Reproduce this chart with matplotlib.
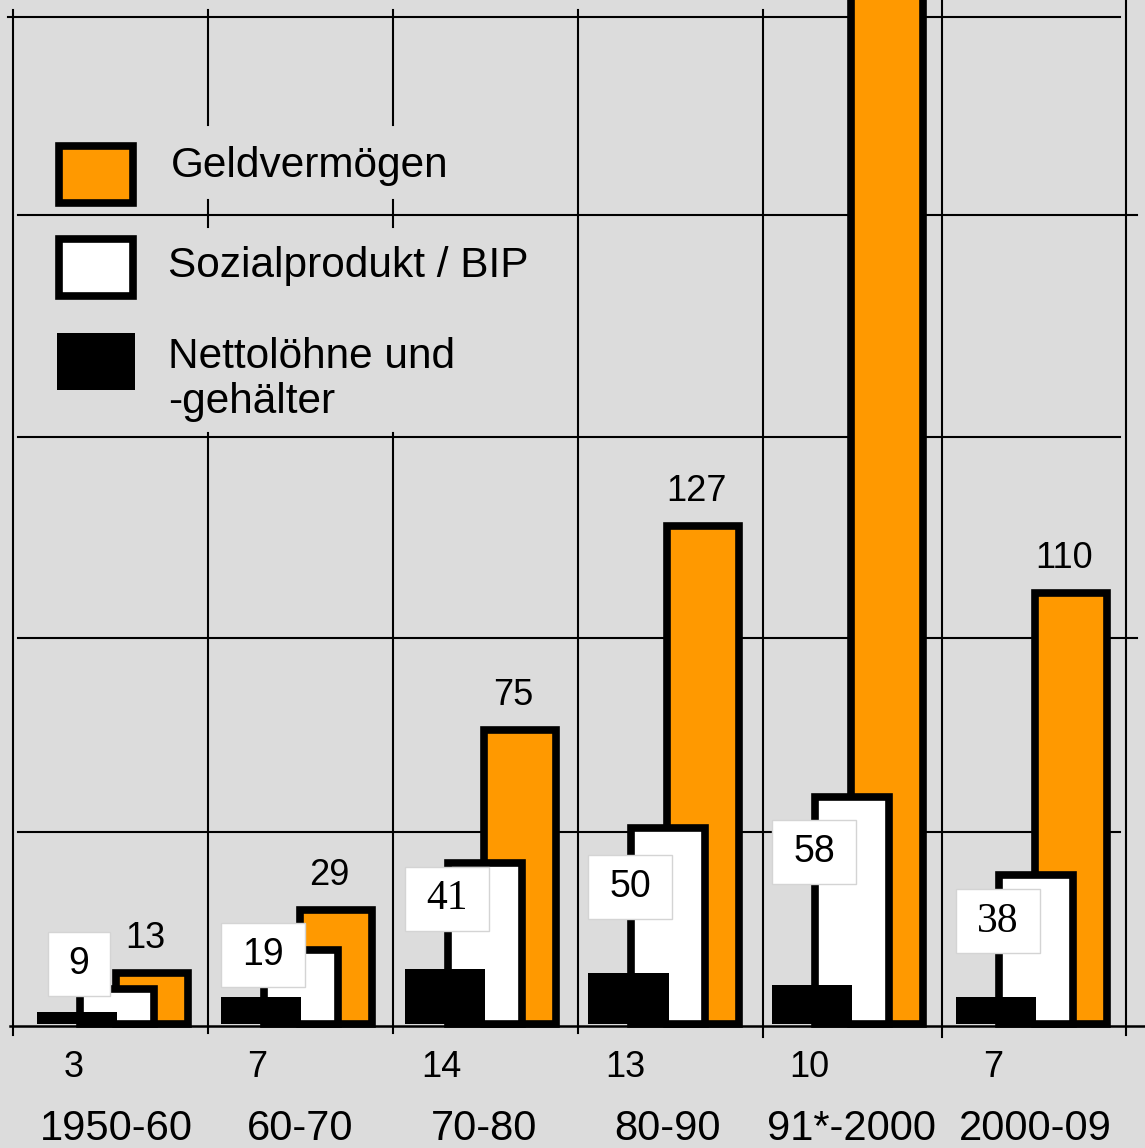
import numpy as np
import matplotlib.pyplot as plt
from matplotlib.patches import Rectangle

plt.rcParams['font.family'] = ['Liberation Sans', 'DejaVu Sans']

# data (growth per decade)
periods = ['1950-60', '60-70', '70-80', '80-90', '91*-2000', '2000-09']
nettoloehne = [3, 7, 14, 13, 10, 7]
bip = [9, 19, 41, 50, 58, 38]
geldvermoegen = [13, 29, 75, 127, 300, 110]  # 91*-2000 runs off the top of the picture
geld_shown = [True, True, True, True, False, True]

# layout of the picture (pixels)
W, H = 1145, 1148
BASE = 1024          # pixel row of the zero line
PPU = 3.92           # pixels per unit
LEFT = 37            # left edge of first group
STEP = 183.8         # pixels per group

# per-label tweaks for the boxed BIP values (box centre below bar top, in units)
bip_dy = [-6.3, 1.5, 9.1, 15, 14.2, 11.8]
bip_serif = [False, False, True, False, False, True]

bg = '#dcdcdc'
orange = '#ff9900'

fig = plt.figure(figsize=(W / 100, H / 100), dpi=100)

# background axes in pixel coordinates: grid lines and legend
deco = fig.add_axes([0, 0, 1, 1], zorder=0)
deco.set_xlim(0, W)
deco.set_ylim(H, 0)
deco.set_facecolor(bg)
deco.axis('off')
fig.patch.set_facecolor(bg)

hlines = [(17, 8, 1120), (215, 18, 1137), (437, 18, 1120), (638, 18, 1137), (832, 18, 1120)]
for y, x0, x1 in hlines:
    deco.plot([x0, x1], [y, y], color='black', lw=1.5)
deco.plot([10, 1145], [1026, 1026], color='black', lw=1.8)

vlines = [(13, 10, 1035), (208, 10, 125), (208, 200, 227), (208, 433, 1033),
          (393, 10, 125), (393, 200, 227), (393, 433, 1033), (578, 10, 1033),
          (763, 10, 1037), (942, 0, 1037), (1126, 0, 1035)]
for x, y0, y1 in vlines:
    deco.plot([x, x], [y0, y1], color='black', lw=1.5)

# legend
deco.add_patch(Rectangle((59, 146), 74, 57, facecolor=orange, edgecolor='black', lw=5.5))
deco.add_patch(Rectangle((59, 239), 74, 57, facecolor='white', edgecolor='black', lw=5.5))
deco.add_patch(Rectangle((57, 333), 78, 57, facecolor='black', edgecolor='none'))
deco.text(171, 177, 'Geldvermögen', fontsize=30.5, va='baseline', ha='left')
deco.text(168, 277, 'Sozialprodukt / BIP', fontsize=30.5, va='baseline', ha='left')
deco.text(168, 413, 'Nettolöhne und\n-gehälter', fontsize=30.5, va='baseline', ha='left',
          linespacing=1.15)

# main axes in data coordinates
ax = fig.add_axes([0, 0, 1, 1], zorder=1)
ax.patch.set_alpha(0)
ax.axis('off')
ax.set_xlim(-LEFT / STEP, (W - LEFT) / STEP)
ax.set_ylim(-(H - BASE) / PPU, BASE / PPU)

x = np.arange(len(periods))
ax.bar(x + 0.43, geldvermoegen, width=0.392, align='edge', color=orange,
       edgecolor='black', lw=5.5, zorder=2)
ax.bar(x + 0.234, bip, width=0.403, align='edge', color='white',
       edgecolor='black', lw=5.5, zorder=3)
ax.bar(x, nettoloehne, width=0.436, align='edge', color='black',
       edgecolor='none', zorder=4)

# value labels
for i in range(len(periods)):
    if geld_shown[i]:
        ax.text(x[i] + 0.59, geldvermoegen[i] + 6.4, str(geldvermoegen[i]),
                fontsize=26, ha='center', va='baseline', zorder=6)

    cx = x[i] + 0.228
    cy = bip[i] - bip_dy[i]
    s = str(bip[i])
    bw = (40 + 22 * len(s)) / STEP
    bh = 64 / PPU
    ax.add_patch(Rectangle((cx - bw / 2, cy - bh / 2), bw, bh, facecolor='white',
                           edgecolor='#d4d4d4', lw=1, zorder=5))
    if bip_serif[i]:
        ax.text(cx, cy, s, fontsize=30, family=['Liberation Serif'],
                ha='center', va='center', zorder=6)
    else:
        ax.text(cx, cy, s, fontsize=27, ha='center', va='center', zorder=6)

    ax.text(x[i] + 0.2, -13.5, str(nettoloehne[i]), fontsize=26,
            ha='center', va='baseline')
    ax.text(x[i] + 0.43, -29.6, periods[i], fontsize=30, ha='center', va='baseline')

fig.savefig('out.png', dpi=100, facecolor=bg)
